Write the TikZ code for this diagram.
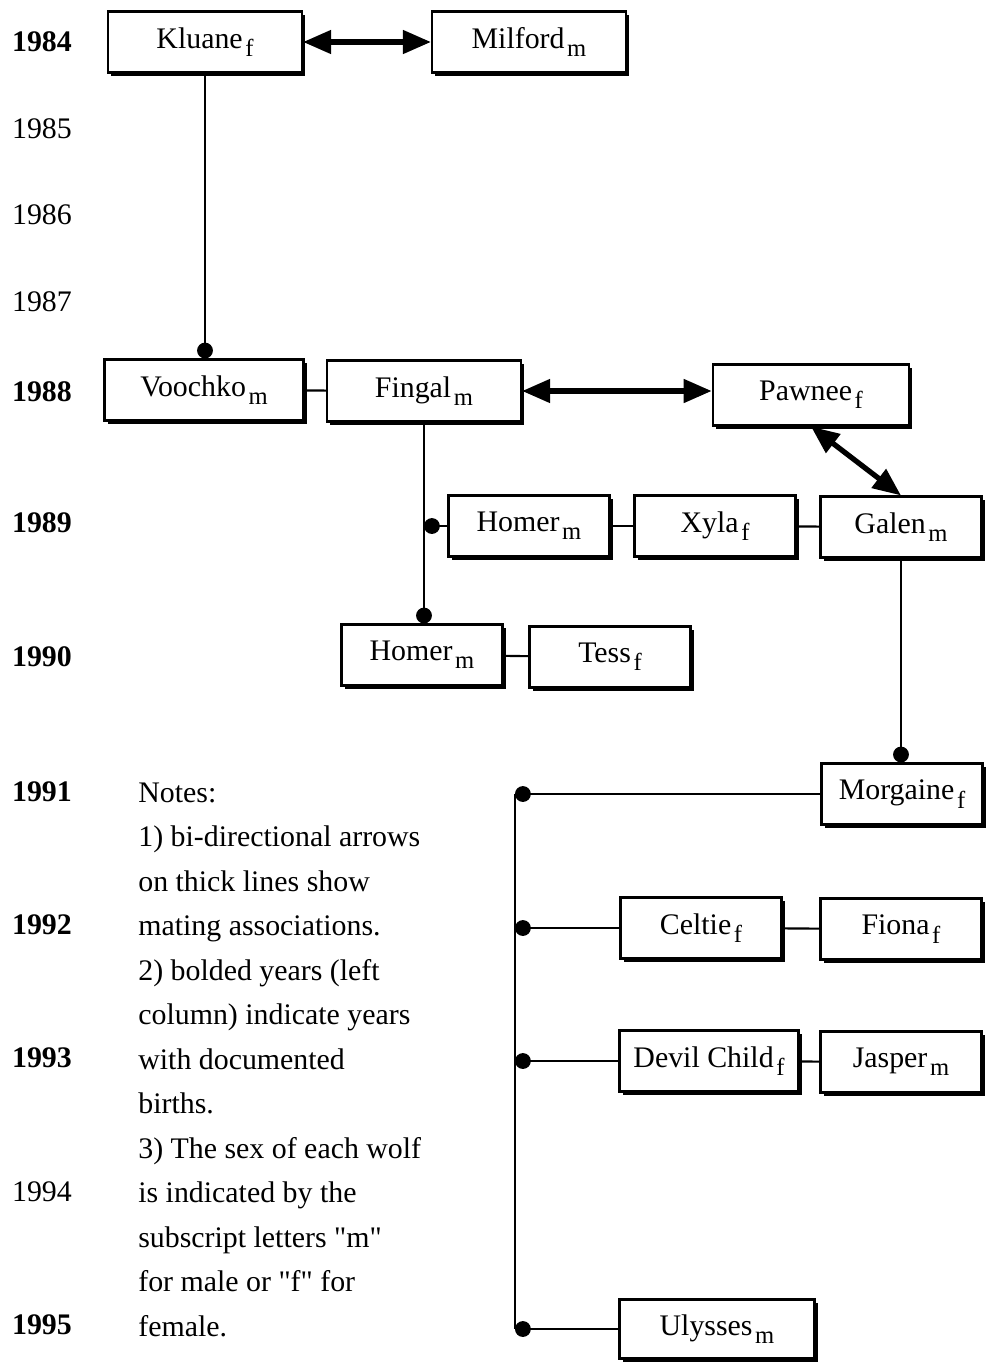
\documentclass[tikz,border=0pt]{standalone}
\usepackage{fontspec}
\setmainfont{Liberation Serif}
\usetikzlibrary{arrows.meta,shadows}
\newcommand{\sx}[1]{\kern1.5pt\raisebox{-0.6ex}{\fontsize{14}{14}\selectfont #1}}

\begin{document}
\begin{tikzpicture}[
  x=0.02cm, y=-0.02cm,
  font=\fontsize{17}{25}\selectfont,
  wolf/.style={draw, fill=white, line width=1.2pt, minimum width=#1,
    minimum height=1.22cm, inner sep=2pt,
    drop shadow={shadow xshift=1.8pt, shadow yshift=-1.8pt, fill=black, opacity=1}},
  wolf/.default=3.22cm,
  mate/.style={{Triangle[length=16pt,width=13pt]}-{Triangle[length=16pt,width=13pt]}, line width=3pt},
  kin/.style={line width=1.2pt},
  born/.style={kin, -{Circle[length=9pt]}},
  note/.style={anchor=base west, inner sep=0pt}]

\useasboundingbox (0,0) rectangle (987,1363);

% year column
\foreach \yr/\y in {1984/42,1988/392,1989/523,1990/657,1991/792,1992/925,1993/1058,1995/1325}
  \node (y\yr) at (42,\y) {\bfseries\yr};
\foreach \yr/\y in {1985/129,1986/215,1987/302,1994/1192}
  \node (y\yr) at (42,\y) {\yr};

% notes
\foreach \i/\t in {0/{Notes:},1/{1) bi-directional arrows},2/{on thick lines show},
    3/{mating associations.},4/{2) bolded years (left},5/{column) indicate years},
    6/{with documented},7/{births.},8/{3) The sex of each wolf},9/{is indicated by the},
    10/{subscript letters \textquotedbl m\textquotedbl},11/{for male or \textquotedbl f\textquotedbl{} for},12/{female.}}
  \node[note] (n\i) at (138,{802+44.5*\i}) {\t};

% wolves
\node[wolf=3.88cm] (kluane)   at (205,42)   {Kluane\sx{f}};
\node[wolf=3.88cm] (milford)  at (529,42)   {Milford\sx{m}};
\node[wolf=3.98cm] (voochko)  at (204,390)  {Voochko\sx{m}};
\node[wolf=3.88cm] (fingal)   at (424,391)  {Fingal\sx{m}};
\node[wolf=3.93cm] (pawnee)   at (811,395)  {Pawnee\sx{f}};
\node[wolf]        (homerA)   at (529,526)  {Homer\sx{m}};
\node[wolf]        (xyla)     at (715,526)  {Xyla\sx{f}};
\node[wolf]        (galen)    at (901,527)  {Galen\sx{m}};
\node[wolf]        (homerB)   at (422,655)  {Homer\sx{m}};
\node[wolf]        (tess)     at (610,657)  {Tess\sx{f}};
\node[wolf]        (morgaine) at (902,794)  {Morgaine\sx{f}};
\node[wolf]        (celtie)   at (701,928)  {Celtie\sx{f}};
\node[wolf]        (fiona)    at (901,929)  {Fiona\sx{f}};
\node[wolf=3.58cm] (devil)    at (709,1061) {Devil Child\sx{f}};
\node[wolf]        (jasper)   at (901,1062) {Jasper\sx{m}};
\node[wolf=3.9cm, minimum height=1.18cm] (ulysses) at (717,1329) {Ulysses\sx{m}};

% mating pairs
\draw[mate] (kluane) -- (milford);
\draw[mate] (fingal.east) -- (fingal.east -| pawnee.west);
\draw[mate] (pawnee.south) -- (galen.north);

% litters and links
\draw[born] (kluane.south) -- (kluane.south |- voochko.north);
\draw[kin] (voochko) -- (fingal);
\draw[born] (fingal.south) -- (fingal.south |- homerB.north);
\coordinate (fork) at (fingal.south |- homerA.west);
\draw[kin, {Circle[length=9pt]}-] (fork) -- (homerA);
\draw[kin] (homerA) -- (xyla);
\draw[kin] (xyla) -- (galen);
\draw[kin] (homerB) -- (tess);
\draw[born] (galen.south) -- (galen.south |- morgaine.north);

\coordinate (bus) at (515,792);
\draw[kin] (morgaine.west -| bus) -- (ulysses.west -| bus);
\foreach \w in {morgaine,celtie,devil,ulysses}
  \draw[kin, {Circle[length=9pt]}-] (\w.west -| bus) -- (\w.west);
\draw[kin] (celtie) -- (fiona);
\draw[kin] (devil) -- (jasper);

\end{tikzpicture}
\end{document}
